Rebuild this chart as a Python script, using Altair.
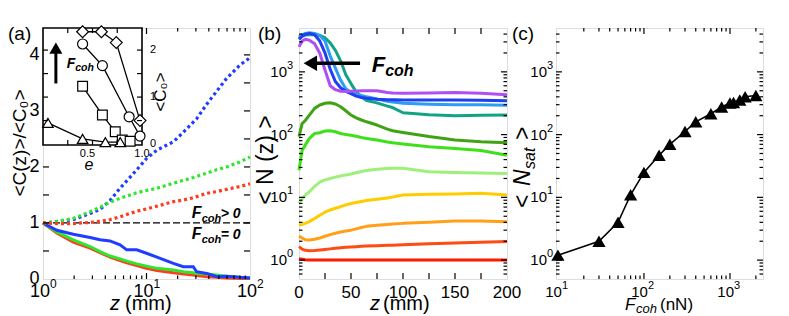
import altair as alt
import pandas as pd

FONT = "Liberation Sans"
WA, WB, WC, H = 207, 208, 207, 251

# ---------------- panel (a): <C(z)>/<C0> versus z ----------------
z_a = [1, 1.36, 1.96, 2.85, 3.55, 4.44, 5.55, 6.44, 8.05, 10, 12.6, 18.2, 22.7, 28.3, 30.5, 38.2, 47.6, 59.4, 80, 100]
blue_dotted = [1.00, 1.02, 1.06, 1.17, 1.24, 1.40, 1.62, 1.75, 1.95, 2.15, 2.30, 2.45, 2.62, 2.80, 2.86, 3.12, 3.35, 3.58, 3.82, 3.95]
green_dotted = [1.00, 1.03, 1.08, 1.20, 1.28, 1.37, 1.44, 1.48, 1.54, 1.58, 1.62, 1.71, 1.76, 1.81, 1.83, 1.89, 1.95, 2.00, 2.09, 2.18]
red_dotted = [1.00, 0.99, 0.99, 1.01, 1.03, 1.06, 1.11, 1.15, 1.21, 1.25, 1.30, 1.38, 1.41, 1.45, 1.47, 1.53, 1.56, 1.60, 1.65, 1.70]
blue_solid = [1.00, 0.87, 0.80, 0.74, 0.70, 0.68, 0.61, 0.52, 0.52, 0.46, 0.39, 0.28, 0.22, 0.22, 0.13, 0.10, 0.04, 0.05, 0.03, 0.02]
green_solid = [1.00, 0.84, 0.70, 0.58, 0.49, 0.41, 0.36, 0.32, 0.27, 0.23, 0.19, 0.16, 0.13, 0.11, 0.10, 0.09, 0.07, 0.05, 0.03, 0.02]
red_solid = [1.00, 0.82, 0.66, 0.55, 0.47, 0.39, 0.33, 0.29, 0.24, 0.19, 0.15, 0.11, 0.09, 0.07, 0.06, 0.04, 0.03, 0.02, 0.01, 0.01]
colors_a = ["#1f3dff", "#2ee62e", "#ff3c1e"]
ref_z = [1, 100]
ref_c = [1, 1]

# inset of (a): <C0> versus e
e_diamond = [0.40, 0.59, 0.74, 0.98]
c0_diamond = [2.39, 2.39, 2.16, 0.50]
e_circle = [0.40, 0.60, 0.87, 0.98]
c0_circle = [2.13, 1.67, 0.58, 0.17]
e_square = [0.40, 0.60, 0.73, 0.80, 0.88]
c0_square = [1.23, 0.62, 0.26, 0.085, 0.06]
e_triangle = [0.05, 0.40, 0.63, 0.78]
c0_triangle = [0.45, 0.11, 0.04, 0.04]

# ---------------- panel (b): <N(z)> versus z ----------------
x_b = [0, 3, 6, 10, 15, 20, 25, 30, 35, 40, 45, 50, 55, 60, 65, 75, 85, 90, 100, 125, 150, 175, 200]
n_red = [1.05, 1.03, 1.01, 1.00, 1.00, 1.00, 1.00, 1.00, 1.00, 1.00, 1.00, 1.00, 1.00, 1.00, 1.00, 1.00, 1.00, 1.00, 1.00, 1.00, 1.00, 1.00, 1.00]
n_redorange = [1.64, 1.50, 1.43, 1.41, 1.42, 1.45, 1.48, 1.51, 1.54, 1.57, 1.60, 1.62, 1.64, 1.66, 1.68, 1.70, 1.72, 1.73, 1.76, 1.82, 1.88, 1.93, 1.98]
n_orange = [2.42, 2.25, 2.12, 2.09, 2.15, 2.25, 2.40, 2.55, 2.68, 2.80, 2.90, 3.00, 3.15, 3.30, 3.45, 3.60, 3.70, 3.75, 3.85, 4.00, 4.20, 4.20, 4.10]
n_yellow = [3.62, 3.70, 3.85, 4.10, 4.60, 5.20, 5.80, 6.30, 6.70, 7.10, 7.60, 8.00, 8.30, 8.60, 8.90, 9.30, 9.80, 10.1, 10.9, 11.2, 11.3, 11.6, 10.9]
n_lightgreen = [8.0, 9.5, 10.8, 12.3, 15.0, 17.5, 19.0, 20.0, 21.0, 21.9, 22.8, 23.5, 24.7, 25.8, 26.8, 28.0, 28.8, 29.0, 29.0, 25.7, 25.0, 24.5, 24.0]
n_green = [27, 56, 68, 87, 104, 107, 114, 115, 111, 104, 100, 98, 94, 90, 87, 82, 76, 74, 71, 64, 60, 56, 47]
n_darkgreen = [93, 150, 168, 205, 262, 296, 316, 322, 307, 278, 240, 205, 185, 171, 160, 142, 122, 115, 108, 93, 82, 77, 74]
n_teal = [3400, 3700, 3850, 3900, 3900, 3800, 3500, 2900, 2200, 1500, 900, 650, 480, 400, 350, 320, 285, 270, 223, 207, 200, 203, 205]
n_lightblue = [3600, 3900, 4100, 4200, 4100, 3800, 3100, 1800, 1150, 740, 540, 470, 440, 420, 400, 370, 340, 330, 315, 305, 300, 298, 295]
n_blue = [3300, 3700, 3950, 4100, 3900, 3100, 2000, 1100, 700, 560, 490, 450, 410, 390, 380, 365, 360, 358, 355, 355, 355, 352, 345]
n_purple = [2500, 3100, 3300, 3200, 2800, 1980, 1070, 600, 520, 490, 485, 490, 495, 500, 500, 500, 470, 460, 455, 460, 470, 455, 430]
colors_b = ["#ff1a00", "#ff4b14", "#ff9f1a", "#ffcc00", "#9ef07a", "#3ee01a", "#3fa314", "#12a386", "#2a9df4", "#1f3ff0", "#b04ef5"]

# ---------------- panel (c): <N_sat> versus F_coh ----------------
f_coh = [10, 30, 50, 70, 100, 150, 200, 300, 400, 600, 800, 1000, 1100, 1300, 1500, 2000]
n_sat = [1.2, 2.0, 4.0, 11, 25, 47, 70, 112, 160, 215, 275, 320, 325, 355, 400, 420]

# ---------------- tick values ----------------
a_x_minor = [2, 3, 4, 5, 6, 7, 8, 9, 20, 30, 40, 50, 60, 70, 80, 90]
a_x_major = [10]
a_x_labels = [1, 10, 100]
a_x_exps = ["0", "1", "2"]
a_y_ticks = [0.5, 1, 1.5, 2, 2.5, 3, 3.5, 4]
a_y_labels = [0, 1, 2, 3, 4]
in_x_ticks = [0.25, 0.5, 0.75]
in_y_ticks = [0.5, 1, 1.5, 2]
b_x_ticks = [25, 50, 75, 100, 125, 150, 175]
b_x_labels = [0, 50, 100, 150, 200]
log_y_major = [1, 10, 100, 1000]
log_y_minor = [0.6, 0.7, 0.8, 0.9, 2, 3, 4, 5, 6, 7, 8, 9, 20, 30, 40, 50, 60, 70, 80, 90,
               200, 300, 400, 500, 600, 700, 800, 900, 2000, 3000, 4000]
log_y_exps = ["0", "1", "2", "3"]
c_x_major = [100, 1000]
c_x_minor = [20, 30, 40, 50, 60, 70, 80, 90, 200, 300, 400, 500, 600, 700, 800, 900, 2000]
c_x_labels = [10, 100, 1000]
c_x_exps = ["1", "2", "3"]


# ---------------- helpers ----------------
def rules_x(vals, scale, length, y_bottom, y_top, sw=1.2):
    df = pd.DataFrame({"v": vals})
    base = alt.Chart(df).mark_rule(color="black", strokeWidth=sw)
    x = alt.X("v:Q", scale=scale, axis=None)
    return [base.encode(x=x, y=alt.value(y_bottom), y2=alt.value(y_bottom - length)),
            base.encode(x=x, y=alt.value(y_top), y2=alt.value(y_top + length))]


def rules_y(vals, scale, length, x_left, x_right, sw=1.2):
    df = pd.DataFrame({"v": vals})
    base = alt.Chart(df).mark_rule(color="black", strokeWidth=sw)
    y = alt.Y("v:Q", scale=scale, axis=None)
    return [base.encode(y=y, x=alt.value(x_left), x2=alt.value(x_left + length)),
            base.encode(y=y, x=alt.value(x_right), x2=alt.value(x_right - length))]


def labels_x(vals, texts, scale, y_px, size, dx=0):
    df = pd.DataFrame({"v": vals, "t": texts})
    return alt.Chart(df).mark_text(font=FONT, fontSize=size, align="center", baseline="alphabetic",
                                   dx=dx, color="black").encode(
        x=alt.X("v:Q", scale=scale, axis=None), y=alt.value(y_px), text="t:N")


def labels_y(vals, texts, scale, x_px, size, align="right"):
    df = pd.DataFrame({"v": vals, "t": texts})
    return alt.Chart(df).mark_text(font=FONT, fontSize=size, align=align, baseline="middle",
                                   color="black").encode(
        y=alt.Y("v:Q", scale=scale, axis=None), x=alt.value(x_px), text="t:N")


def pow_labels_x(vals, exps, scale, y_px, size, esize, split, rise):
    df = pd.DataFrame({"v": vals, "b": ["10"] * len(vals), "e": exps})
    x = alt.X("v:Q", scale=scale, axis=None)
    base = alt.Chart(df)
    return [base.mark_text(font=FONT, fontSize=size, align="right", baseline="alphabetic", dx=split,
                           color="black").encode(x=x, y=alt.value(y_px), text="b:N"),
            base.mark_text(font=FONT, fontSize=esize, align="left", baseline="alphabetic", dx=split,
                           dy=-rise, color="black").encode(x=x, y=alt.value(y_px), text="e:N")]


def pow_labels_y(vals, exps, scale, x_px, size, esize, ewidth, rise=6):
    df = pd.DataFrame({"v": vals, "b": ["10"] * len(vals), "e": exps})
    y = alt.Y("v:Q", scale=scale, axis=None)
    base = alt.Chart(df)
    return [base.mark_text(font=FONT, fontSize=size, align="right", baseline="middle",
                           color="black").encode(x=alt.value(x_px - ewidth), y=y, text="b:N"),
            base.mark_text(font=FONT, fontSize=esize, align="right", baseline="middle", dy=-rise,
                           color="black").encode(x=alt.value(x_px), y=y, text="e:N")]


def txt(text, x_px, y_px, size, **kw):
    props = dict(font=FONT, fontSize=size, color="black", align="left", baseline="alphabetic")
    props.update(kw)
    return alt.Chart(pd.DataFrame({"t": [text]})).mark_text(**props).encode(
        x=alt.value(x_px), y=alt.value(y_px), text="t:N")


def note(text, xv, yv, xs, ys, size, **kw):
    props = dict(font=FONT, fontSize=size, color="black", align="left", baseline="alphabetic",
                 fontWeight="bold", fontStyle="italic")
    props.update(kw)
    df = pd.DataFrame({"t": [text], "xv": [xv], "yv": [yv]})
    return alt.Chart(df).mark_text(**props).encode(
        x=alt.X("xv:Q", scale=xs, axis=None), y=alt.Y("yv:Q", scale=ys, axis=None), text="t:N")


def fcoh(xv, yv, xs, ys, fs, sub_fs, sub_dx, sub_dy, tail=None, tail_dx=0, tail_fs=None):
    parts = [note("F", xv, yv, xs, ys, fs),
             note("coh", xv, yv, xs, ys, sub_fs, dx=sub_dx, dy=sub_dy)]
    if tail:
        parts.append(note(tail, xv, yv, xs, ys, tail_fs or fs, dx=tail_dx))
    return parts


# ---------------- panel (a) ----------------
xa = alt.Scale(type="log", domain=[1, 100], nice=False)
ya = alt.Scale(type="linear", domain=[0, 4.48], nice=False, zero=False)

n_a = len(z_a)
df_dot = pd.DataFrame({"z": z_a * 3, "c": blue_dotted + green_dotted + red_dotted,
                       "col": [colors_a[0]] * n_a + [colors_a[1]] * n_a + [colors_a[2]] * n_a})
df_sol = pd.DataFrame({"z": z_a * 3, "c": blue_solid + green_solid + red_solid,
                       "col": [colors_a[0]] * n_a + [colors_a[1]] * n_a + [colors_a[2]] * n_a})
df_ref = pd.DataFrame({"z": ref_z, "c": ref_c})

enc_a = dict(x=alt.X("z:Q", scale=xa, axis=None), y=alt.Y("c:Q", scale=ya, axis=None))
ref_line = alt.Chart(df_ref).mark_line(color="black", strokeWidth=1.2, strokeDash=[7, 3]).encode(**enc_a)
dotted = alt.Chart(df_dot).mark_line(strokeWidth=3.2, strokeDash=[3, 3]).encode(
    color=alt.Color("col:N", scale=None), **enc_a)
solid = alt.Chart(df_sol).mark_line(strokeWidth=3).encode(
    color=alt.Color("col:N", scale=None), **enc_a)

main_a = alt.layer(
    ref_line, solid.transform_filter("datum.col == '%s'" % colors_a[2]),
    solid.transform_filter("datum.col == '%s'" % colors_a[1]),
    solid.transform_filter("datum.col == '%s'" % colors_a[0]),
    dotted,
    *rules_x(a_x_minor, xa, 3.5, H, 0),
    *rules_x(a_x_major, xa, 6, H, 0),
    *rules_y(a_y_ticks, ya, 6, 0, WA),
    labels_y(a_y_labels, [str(v) for v in a_y_labels], ya, -3.5, 18),
    *pow_labels_x(a_x_labels, a_x_exps, xa, H + 18, 18, 12, 7, 9),
    *fcoh(27.3, 1.09, xa, ya, 16, 11, 10, 4, tail="> 0", tail_dx=29, tail_fs=14),
    *fcoh(27.3, 0.72, xa, ya, 16, 11, 10, 4, tail="= 0", tail_dx=29, tail_fs=14),
    txt("(a)", -35, 12, 19),
    txt("<C(z)>/<C\u2080>", -17.5, 115, 19, angle=270, align="center", baseline="alphabetic"),
    txt("z", 67, H + 31, 20, fontStyle="italic"),
    txt("(mm)", 82, H + 31, 20),
)

# inset
xe = alt.Scale(type="linear", domain=[0, 1.0], range=[0, 99], nice=False, zero=False)
yc = alt.Scale(type="linear", domain=[-0.02, 2.47], range=[117, 0], nice=False, zero=False)
df_in = pd.DataFrame({
    "e": e_diamond + e_circle + e_square + e_triangle,
    "c0": c0_diamond + c0_circle + c0_square + c0_triangle,
    "s": ["d"] * 4 + ["c"] * 4 + ["s"] * 5 + ["t"] * 4,
    "shp": ["diamond"] * 4 + ["circle"] * 4 + ["square"] * 5 + ["triangle-up"] * 4,
    "sz": [140] * 4 + [100] * 4 + [95] * 5 + [110] * 4,
})
enc_in = dict(x=alt.X("e:Q", scale=xe, axis=None), y=alt.Y("c0:Q", scale=yc, axis=None))
df_box = pd.DataFrame({"e0": [0.0], "e1": [1.0], "lo": [-0.02], "hi": [2.47]})
box = alt.Chart(df_box).mark_rect(fill="white", stroke="black", strokeWidth=1.6).encode(
    x=alt.X("e0:Q", scale=xe, axis=None), x2="e1:Q",
    y=alt.Y("lo:Q", scale=yc, axis=None), y2="hi:Q")
in_lines = alt.Chart(df_in).mark_line(color="black", strokeWidth=1.3).encode(detail="s:N", **enc_in)
in_pts = alt.Chart(df_in).mark_point(filled=True, fill="white", stroke="black", strokeWidth=1.2,
                                     opacity=1).encode(
    shape=alt.Shape("shp:N", scale=None), size=alt.Size("sz:Q", scale=None), **enc_in)
df_arrow_in = pd.DataFrame({"e": [0.13], "lo": [1.29], "hi": [1.95], "tip": [2.04]})
arrow_in = alt.Chart(df_arrow_in).mark_rule(color="black", strokeWidth=3).encode(
    x=alt.X("e:Q", scale=xe, axis=None), y=alt.Y("lo:Q", scale=yc, axis=None), y2="hi:Q")
head_in = alt.Chart(df_arrow_in).mark_point(shape="triangle-up", filled=True, color="black",
                                            size=170, opacity=1).encode(
    x=alt.X("e:Q", scale=xe, axis=None), y=alt.Y("tip:Q", scale=yc, axis=None))

inset_a = alt.layer(
    box, in_lines, in_pts,
    *rules_x(in_x_ticks, xe, 5, 117, 0),
    *rules_y(in_y_ticks, yc, 5, 0, 99),
    labels_x([0.5], ["0.5"], xe, 129, 11, dx=-5),
    labels_x([1.0], ["1.0"], xe, 129, 11),
    labels_y([0, 1, 2], ["0", "1", "2"], yc, 107, 11, align="left"),
    txt("e", 46, 142, 16, fontStyle="italic", align="center"),
    txt("<C\u2080>", 118, 64, 17, angle=270, align="center", baseline="middle"),
    arrow_in, head_in,
    *fcoh(0.24, 1.62, xe, yc, 14, 10.5, 8.5, 3),
)

panel_a = alt.layer(main_a, inset_a).resolve_scale(x="independent", y="independent").properties(
    width=WA, height=H)

# ---------------- panel (b) ----------------
xb = alt.Scale(type="linear", domain=[0, 200], nice=False, zero=False)
yb = alt.Scale(type="log", domain=[0.5, 5000], nice=False)
curves_b = [n_red, n_redorange, n_orange, n_yellow, n_lightgreen, n_green, n_darkgreen,
            n_teal, n_lightblue, n_blue, n_purple]
rows = []
for i, (curve, col) in enumerate(zip(curves_b, colors_b)):
    for xv, nv in zip(x_b, curve):
        rows.append({"x": xv, "n": nv, "col": col, "k": i})
df_b = pd.DataFrame(rows)
lines_b = alt.Chart(df_b).mark_line(strokeWidth=3, strokeJoin="round").encode(
    x=alt.X("x:Q", scale=xb, axis=None), y=alt.Y("n:Q", scale=yb, axis=None),
    color=alt.Color("col:N", scale=None), detail="k:N")
df_arrow_b = pd.DataFrame({"x1": [58.7], "x2": [15.0], "y": [1370.0], "tip": [10.9]})
arrow_b = alt.Chart(df_arrow_b).mark_rule(color="black", strokeWidth=3.5).encode(
    x=alt.X("x1:Q", scale=xb, axis=None), x2="x2:Q", y=alt.Y("y:Q", scale=yb, axis=None))
head_b = alt.Chart(df_arrow_b).mark_point(shape="triangle-left", filled=True, color="black",
                                          size=240, opacity=1).encode(
    x=alt.X("tip:Q", scale=xb, axis=None), y=alt.Y("y:Q", scale=yb, axis=None))

panel_b = alt.layer(
    lines_b,
    *rules_x(b_x_ticks, xb, 6, H, 0),
    *rules_y(log_y_major, yb, 6, 0, WB),
    *rules_y(log_y_minor, yb, 3.5, 0, WB),
    labels_x(b_x_labels, [str(v) for v in b_x_labels], xb, H + 19, 17),
    *pow_labels_y(log_y_major, log_y_exps, yb, -6, 15, 11, 6),
    arrow_b, head_b,
    *fcoh(69.9, 995, xb, yb, 22, 16, 13.5, 4),
    txt("(b)", -41, 12, 19),
    txt("< N (z) >", -33, 132, 23, angle=270, align="center", baseline="middle"),
    txt("z", 71, H + 31, 20, fontStyle="italic"),
    txt("(mm)", 84, H + 31, 20),
).properties(width=WB, height=H)

# ---------------- panel (c) ----------------
xc = alt.Scale(type="log", domain=[9.5, 2420], nice=False)
yc2 = alt.Scale(type="log", domain=[0.5, 5000], nice=False)
df_c = pd.DataFrame({"f": f_coh, "n": n_sat})
enc_c = dict(x=alt.X("f:Q", scale=xc, axis=None), y=alt.Y("n:Q", scale=yc2, axis=None))
line_c = alt.Chart(df_c).mark_line(color="black", strokeWidth=1.6).encode(**enc_c)
pts_c = alt.Chart(df_c).mark_point(shape="triangle-up", filled=True, color="black", size=175,
                                   opacity=1).encode(**enc_c)

panel_c = alt.layer(
    line_c, pts_c,
    *rules_x(c_x_major, xc, 6, H, 0),
    *rules_x(c_x_minor, xc, 3.5, H, 0),
    *rules_y(log_y_major, yc2, 6, 0, WC),
    *rules_y(log_y_minor, yc2, 3.5, 0, WC),
    *pow_labels_x(c_x_labels, c_x_exps, xc, H + 18, 15, 11, 4, 8),
    *pow_labels_y(log_y_major, log_y_exps, yc2, -3, 15, 11, 6),
    txt("(c)", -44, 12, 19),
    txt("<", -26, 139, 23, angle=270, dx=-41),
    txt("N", -26, 139, 23, angle=270, dx=-19, fontStyle="italic"),
    txt("sat", -26, 139, 16, angle=270, dx=-2, dy=5, fontStyle="italic"),
    txt(">", -26, 139, 23, angle=270, dx=27),
    txt("F", 69, H + 31, 17, fontStyle="italic"),
    txt("coh", 80, H + 34, 13, fontStyle="italic"),
    txt("(nN)", 104, H + 31, 17),
).properties(width=WC, height=H)

chart = alt.hconcat(
    panel_a, panel_b, panel_c, spacing=49, bounds="flush",
    autosize=alt.AutoSizeParams(type="none"),
    padding={"left": 35, "top": 20, "right": 738, "bottom": 288},
).configure_view(stroke="black", strokeWidth=1.8).configure(font=FONT)

chart.save("out.html", embed_options={"renderer": "svg", "actions": False})
